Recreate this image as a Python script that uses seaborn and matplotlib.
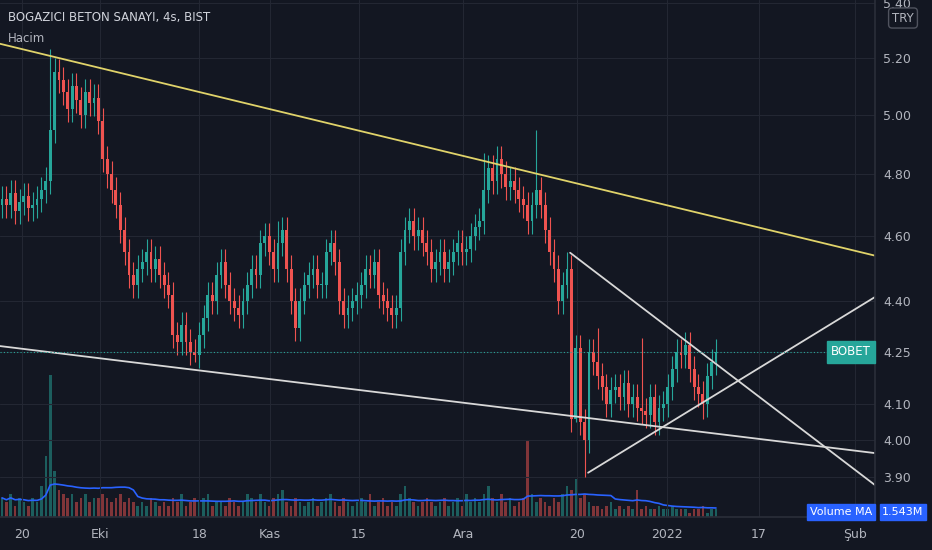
import numpy as np, pandas as pd
import matplotlib
matplotlib.use("Agg")
import matplotlib.pyplot as plt
import seaborn as sns
from matplotlib.ticker import FixedLocator, NullLocator, FixedFormatter

closes = [4.72,4.70,4.74,4.68,4.71,4.73,4.69,4.70,4.72,4.75,4.78,
          4.95,5.15,5.12,5.08,5.02,5.10,5.05,5.00,5.08,5.04,5.06,4.98,
          4.85,4.80,4.75,4.70,4.62,4.55,4.48,4.45,4.50,
          4.52,4.55,4.50,4.53,4.48,4.45,4.42,
          4.30,4.28,4.33,4.28,4.25,4.24,
          4.30,4.35,4.42,4.40,4.48,
          4.52,4.45,4.40,4.38,4.36,4.40,
          4.45,4.50,4.48,4.58,4.60,4.55,4.50,
          4.58,4.62,4.50,4.40,4.32,
          4.40,4.45,4.48,4.50,4.45,
          4.45,4.55,4.58,4.52,4.40,4.36,
          4.38,4.40,4.42,4.45,4.50,4.48,4.52,
          4.42,4.40,4.38,4.36,4.38,
          4.55,4.62,4.65,4.60,4.62,4.58,
          4.55,4.50,4.52,4.55,4.50,4.52,4.55,4.58,
          4.55,4.56,4.60,4.63,4.65,
          4.75,4.82,4.78,4.85,4.80,
          4.76,4.78,4.75,4.72,4.70,
          4.65,4.70,4.75,4.70,
          4.62,4.55,4.50,4.40,4.45,4.50,
          4.06,4.26,4.05,4.00,4.25,
          4.22,4.18,4.15,4.10,4.14,
          4.15,4.12,4.16,4.10,4.12,4.09,
          4.08,4.07,4.12,4.05,4.09,4.10,
          4.15,4.20,4.25,4.24,
          4.27,4.20,4.15,4.13,4.10,4.18,4.22,4.25]
first_open = 4.70
high_overrides = {11: 5.23, 12: 5.20, 63: 4.65, 110: 4.87, 122: 4.95, 129: 4.55, 132: 4.30, 136: 4.32, 146: 4.29}
low_overrides = {44: 4.22, 131: 4.05, 133: 3.90, 160: 4.06}
volumes = [5,4,6,3,5,4,3,5,4,8,16,37,12,7,6,5,6,4,5,6,4,5,5,
           6,5,4,5,6,4,5,4,3,4,3,5,4,3,4,3,5,4,6,3,4,5,
           4,5,6,3,4,4,3,5,4,3,4,6,5,4,6,4,3,5,6,7,4,3,5,
           4,3,4,5,3,4,5,6,4,3,5,4,3,4,5,4,6,3,4,5,3,4,3,
           6,8,5,4,3,4,5,4,3,4,5,3,4,5,3,6,4,5,4,6,8,5,4,
           6,4,5,3,4,5,20,6,4,5,4,3,5,4,6,8,7,10,5,6,4,3,
           3,2,3,4,2,3,2,3,2,7,2,3,2,2,3,2,2,3,2,2,2,1,2,2,3,1,2,2]
price_ticks = [3.90, 4.00, 4.10, 4.25, 4.40, 4.60, 4.80, 5.00, 5.20, 5.40]
date_pos = [4.6, 22.4, 45.0, 61.2, 81.5, 105.3, 131.3, 151.8, 172.8, 194.7]
date_labels = ["20", "Eki", "18", "Kas", "15", "Ara", "20", "2022", "17", "Şub"]
yellow_line = ([-0.46, 199.3], [5.25, 4.54])
lower_line = ([-0.46, 199.3], [4.267, 3.965])
tri_upper = ([129.7, 199.3], [4.549, 3.879])
tri_rising = ([133.8, 199.3], [3.912, 4.413])

sns.set_theme(style="dark")
BG = "#131722"; UP = "#26a69a"; DN = "#ef5350"; TXT = "#b2b5be"
n = len(closes)
vols = (volumes + [2] * n)[:n]
opens = [first_open] + closes[:-1]
df = pd.DataFrame({"i": np.arange(n), "o": opens, "c": closes, "v": vols})
df["h"] = [high_overrides.get(i, max(o, c) * 1.009) for i, o, c in zip(df.i, df.o, df.c)]
df["l"] = [low_overrides.get(i, min(o, c) / 1.009) for i, o, c in zip(df.i, df.o, df.c)]
df["up"] = df.c >= df.o
df["ma"] = df.v.rolling(20, min_periods=1).mean()

fig = plt.figure(figsize=(9.32, 5.5), dpi=100, facecolor=BG)
ax = fig.add_axes([0, 33/550, 875/932, 517/550], facecolor=BG)
axv = ax.twinx()
ax.set_zorder(2); ax.patch.set_visible(False); axv.set_zorder(1)
axv.set_facecolor(BG)

xl = (-0.46, 199.3)
cols = [UP if u else DN for u in df.up]
axv.bar(df.i, df.v, width=0.6, color=cols, alpha=0.5, linewidth=0, edgecolor="none")
sns.lineplot(x=df.i, y=df.ma, ax=axv, color="#2962ff", lw=1.2)
axv.set_ylim(0, 135); axv.set_yticks([]); axv.set_ylabel("")
ax.vlines(df.i, df.l, df.h, colors=cols, lw=0.8)
ax.bar(df.i, (df.c - df.o).abs().clip(lower=0.004), bottom=np.minimum(df.o, df.c), width=0.65,
       color=cols, linewidth=0, edgecolor="none")
ax.set_yscale("log")
ax.set_ylim(3.795, 5.41); ax.set_xlim(*xl); axv.set_xlim(*xl)
for (xs, ys), c in [(yellow_line, "#e0d36a"), (lower_line, "#d8d8d8"), (tri_upper, "#d8d8d8"), (tri_rising, "#d8d8d8")]:
    ax.plot(xs, ys, color=c, lw=1.3)
ax.axhline(closes[-1], color=UP, ls=(0, (1, 2)), lw=0.8)

ax.yaxis.tick_right()
ax.yaxis.set_major_locator(FixedLocator(price_ticks))
ax.yaxis.set_major_formatter(FixedFormatter([f"{p:.2f}" for p in price_ticks]))
ax.yaxis.set_minor_locator(NullLocator())
ax.tick_params(axis="y", colors=TXT, labelsize=9, length=0, pad=6)
ax.set_xticks(date_pos); ax.set_xticklabels(date_labels)
ax.tick_params(axis="x", colors=TXT, labelsize=9, length=0, pad=8)
ax.grid(True, color="#232733", lw=0.8)
for a in (ax, axv):
    for s in a.spines.values(): s.set_visible(False)
ax.spines["right"].set_visible(True); ax.spines["right"].set_color("#2a2e39")
ax.spines["bottom"].set_visible(True); ax.spines["bottom"].set_color("#2a2e39")

fig.text(8/932, 1-18/550, "BOGAZICI BETON SANAYI, 4s, BIST", color="#d1d4dc", fontsize=8.5, va="center")
fig.text(8/932, 1-39/550, "Hacim", color=TXT, fontsize=8.5, va="center")
fig.text(903/932, 1-18/550, "TRY", color=TXT, fontsize=8.5, ha="center", va="center",
         bbox=dict(boxstyle="round,pad=0.3", fc=BG, ec="#50535e"))
ax.text(0.995, closes[-1], "BOBET", transform=ax.get_yaxis_transform(), ha="right", va="center",
        color="white", fontsize=8.5, bbox=dict(boxstyle="square,pad=0.35", fc=UP, ec=UP))
fig.text(872/932, 1-512/550, "Volume MA", color="white", fontsize=8, ha="right", va="center",
         bbox=dict(boxstyle="square,pad=0.25", fc="#2962ff", ec="#2962ff"))
fig.text(903/932, 1-512/550, "1.543M", color="white", fontsize=8, ha="center", va="center",
         bbox=dict(boxstyle="square,pad=0.25", fc="#2962ff", ec="#2962ff"))
fig.savefig("out.png", dpi=100, facecolor=BG)
